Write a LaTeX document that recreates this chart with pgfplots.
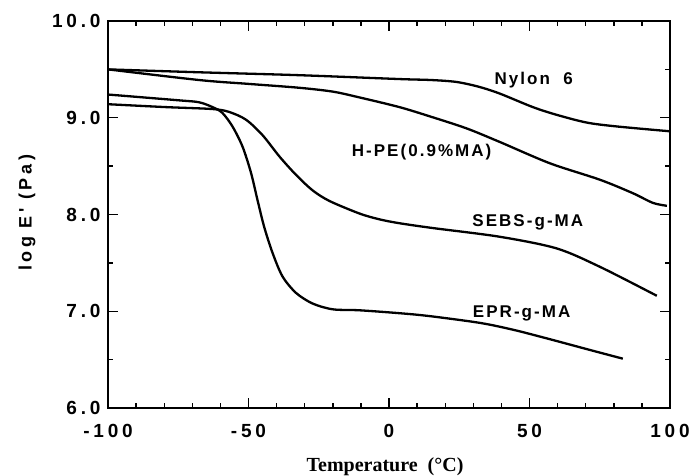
\documentclass[border=0pt]{standalone}
\usepackage{fontspec}
\setmainfont{Liberation Sans}
\newfontfamily\tickfont[LetterSpace=20]{Liberation Sans}
\newfontfamily\curvefont[LetterSpace=12]{Liberation Sans}
\newfontfamily\serifbold{Liberation Serif}
\usepackage{pgfplots}
\pgfplotsset{compat=1.18}

\begin{document}
\begin{tikzpicture}
\useasboundingbox (-108pt,-67pt) rectangle (588pt,408pt);
\begin{axis}[
  at={(0,0)}, anchor=south west,
  scale only axis, width=562pt, height=387pt,
  xmin=-100, xmax=100, ymin=6, ymax=10,
  xtick={-100,-50,0,50,100},
  xticklabels={-100,-50,0,50,100},
  ytick={6,7,8,9,10},
  yticklabels={6.0,7.0,8.0,9.0,10.0},
  minor x tick num=4, minor y tick num=1,
  tick align=inside,
  major tick length=10pt, minor tick length=5pt,
  tick style={line width=1.4pt, black},
  axis line style={line width=2.4pt},
  ticklabel style={font=\tickfont\bfseries\fontsize{19}{19}\selectfont},
  xticklabel style={yshift=-13pt},
  yticklabel style={xshift=-4pt},
  xlabel={Temperature\ \ (\textdegree C)},
  xlabel style={font=\serifbold\bfseries\fontsize{20}{20}\selectfont,
    at={(axis description cs:0.493,0)}, anchor=center, yshift=-59pt},
  ylabel={log E' (Pa)},
  ylabel style={font=\tickfont\bfseries\fontsize{18}{18}\selectfont,
    at={(axis description cs:0,0.504)}, anchor=center, yshift=81pt},
  curve/.style={black, no markers, line width=2.3pt, smooth, tension=0.5},
  clip=false,
]
% Nylon 6
\addplot[curve] coordinates {
  (-100,9.50) (-67.6,9.47) (-32,9.44) (3.7,9.40) (15,9.39) (24,9.37)
  (32,9.32) (39.4,9.25) (51.2,9.11) (59.7,9.03) (70.4,8.95) (81.1,8.91) (100,8.86)};
% H-PE (0.9% MA)
\addplot[curve] coordinates {
  (-100,9.50) (-67.6,9.39) (-50,9.35) (-32,9.31) (-20,9.27) (-10.5,9.21)
  (3.7,9.11) (15,9.01) (27.6,8.89) (39.4,8.75) (57.2,8.53) (75,8.36)
  (86.8,8.22) (93.9,8.12) (98.9,8.09)};
% SEBS-g-MA
\addplot[curve] coordinates {
  (-100,9.14) (-79.4,9.11) (-62.8,9.09) (-56.9,9.06) (-50.9,8.98) (-45.0,8.82)
  (-39.0,8.60) (-33.1,8.41) (-27.2,8.25) (-21.2,8.14) (-10.5,8.01) (-3.4,7.95)
  (3.7,7.91) (15.6,7.86) (39.4,7.77) (59.6,7.65) (75.0,7.46) (95.3,7.16)};
% EPR-g-MA
\addplot[curve] coordinates {
  (-100,9.24) (-74.7,9.18) (-67.6,9.16) (-62.8,9.11) (-59.3,9.05) (-55.7,8.91)
  (-52.1,8.70) (-49.1,8.43) (-46.8,8.15) (-44.4,7.87) (-41.4,7.60) (-37.9,7.36)
  (-33.1,7.19) (-27.2,7.08) (-20.0,7.02) (-10.5,7.01) (3.7,6.98) (14.4,6.95)
  (32.3,6.88) (44.0,6.81) (56.1,6.72) (71.5,6.60) (83.2,6.51)};

\begin{scope}[every node/.style={font=\curvefont\bfseries\fontsize{17}{17}\selectfont}]
\node at (axis cs:51.5,9.39) {Nylon\ \ 6};
\node at (axis cs:11.6,8.64) {H-PE(0.9\%MA)};
\node at (axis cs:49.4,7.92) {SEBS-g-MA};
\node at (axis cs:47.2,6.98) {EPR-g-MA};
\end{scope}
\end{axis}
\end{tikzpicture}
\end{document}
